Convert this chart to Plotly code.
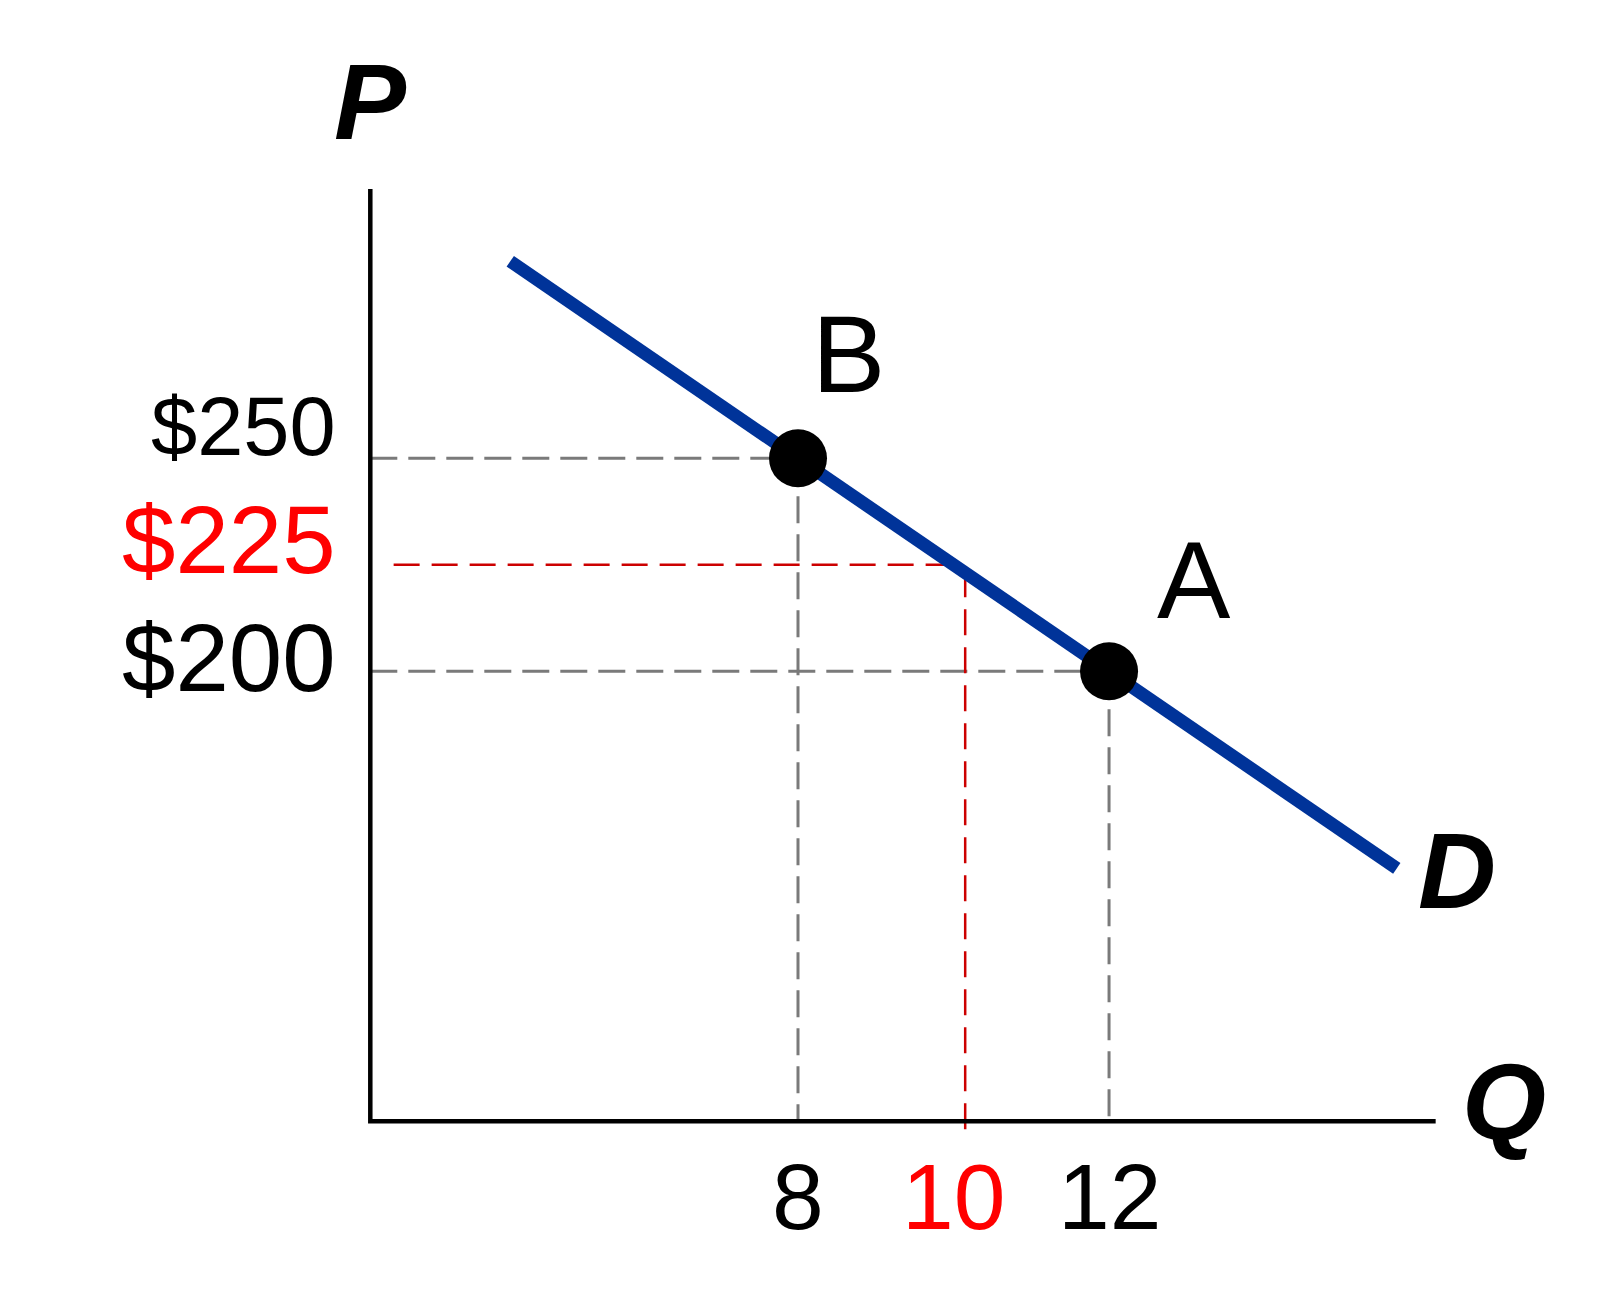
import plotly.graph_objects as go

# demand curve D
demand_q = [4.3, 15.7]
demand_p = [296.25, 153.75]

# points on the curve
point_labels = ["B", "A"]
point_q = [8, 12]
point_p = [250, 200]

# the new (red) point
red_q = 10.15
red_p = 225

# axis corner and extents
axis_q = [2.5, 2.5, 16.2]
axis_p = [313.2, 94.4, 94.4]

price_labels = ["$250", "$225", "$200"]
price_vals = [250, 225, 200]
qty_labels = ["8", "10", "12"]
qty_vals = [8, 10, 12]

FONT = "Arial, Liberation Sans, sans-serif"
GRAY = "#7a7a7a"
DARKRED = "#cc0000"
RED = "#ff0000"
BLUE = "#003399"

fig = go.Figure()

# gray guide lines
for q, p in zip(point_q, point_p):
    fig.add_trace(go.Scatter(x=[axis_q[0], q], y=[p, p], mode="lines",
                             line=dict(color=GRAY, width=3, dash="27px,11px")))
    fig.add_trace(go.Scatter(x=[q, q], y=[p, axis_p[1]], mode="lines",
                             line=dict(color=GRAY, width=3, dash="27px,11px")))

# red guide lines
fig.add_trace(go.Scatter(x=[2.8, red_q - 0.08], y=[red_p, red_p], mode="lines",
                         line=dict(color=DARKRED, width=2.5, dash="26px,12px")))
fig.add_trace(go.Scatter(x=[red_q, red_q], y=[red_p - 1.5, axis_p[1] - 2], mode="lines",
                         line=dict(color=DARKRED, width=2.5, dash="26px,12px")))

# axes
fig.add_trace(go.Scatter(x=axis_q, y=axis_p, mode="lines",
                         line=dict(color="black", width=4.5)))

# demand curve
fig.add_trace(go.Scatter(x=demand_q, y=demand_p, mode="lines",
                         line=dict(color=BLUE, width=13)))

# points
fig.add_trace(go.Scatter(x=point_q, y=point_p, mode="markers",
                         marker=dict(color="black", size=58)))

ann = []
# price labels
price_sizes = [83, 96, 96]
price_colors = ["black", RED, "black"]
price_shift = [32, 25, 14]
for t, v, s, c, dy in zip(price_labels, price_vals, price_sizes, price_colors, price_shift):
    ann.append(dict(x=axis_q[0], y=v, text=t, xanchor="right", yanchor="middle",
                    xshift=-32, yshift=dy, font=dict(size=s, color=c, family=FONT)))
# quantity labels
qty_colors = ["black", RED, "black"]
for t, v, c in zip(qty_labels, qty_vals, qty_colors):
    ann.append(dict(x=v, y=axis_p[1], text=t, xanchor="center", yanchor="top",
                    yshift=-22, font=dict(size=93, color=c, family=FONT)))
# point letters
ann.append(dict(x=point_q[0], y=point_p[0], text="B", xanchor="center", yanchor="middle",
                xshift=50, yshift=105, font=dict(size=110, color="black", family=FONT)))
ann.append(dict(x=point_q[1], y=point_p[1], text="A", xanchor="center", yanchor="middle",
                xshift=85, yshift=92, font=dict(size=110, color="black", family=FONT)))
# axis titles and curve label
ann.append(dict(x=axis_q[0], y=axis_p[0], text="<b><i>P</i></b>", xanchor="center",
                yanchor="middle", yshift=88, font=dict(size=108, color="black", family=FONT)))
ann.append(dict(x=axis_q[2], y=axis_p[2], text="<b><i>Q</i></b>", xanchor="center",
                yanchor="middle", xshift=68, yshift=20, font=dict(size=108, color="black", family=FONT)))
ann.append(dict(x=demand_q[1], y=demand_p[1], text="<b><i>D</i></b>", xanchor="center",
                yanchor="middle", xshift=60, yshift=-2, font=dict(size=108, color="black", family=FONT)))
for a in ann:
    a["showarrow"] = False

fig.update_layout(
    width=1623, height=1301,
    margin=dict(l=0, r=0, t=0, b=0),
    paper_bgcolor="white", plot_bgcolor="white",
    showlegend=False,
    annotations=ann,
    xaxis=dict(range=[-2.159, 18.712], visible=False, fixedrange=True),
    yaxis=dict(range=[50.31, 355.70], visible=False, fixedrange=True),
)

fig.write_html("out.html")
